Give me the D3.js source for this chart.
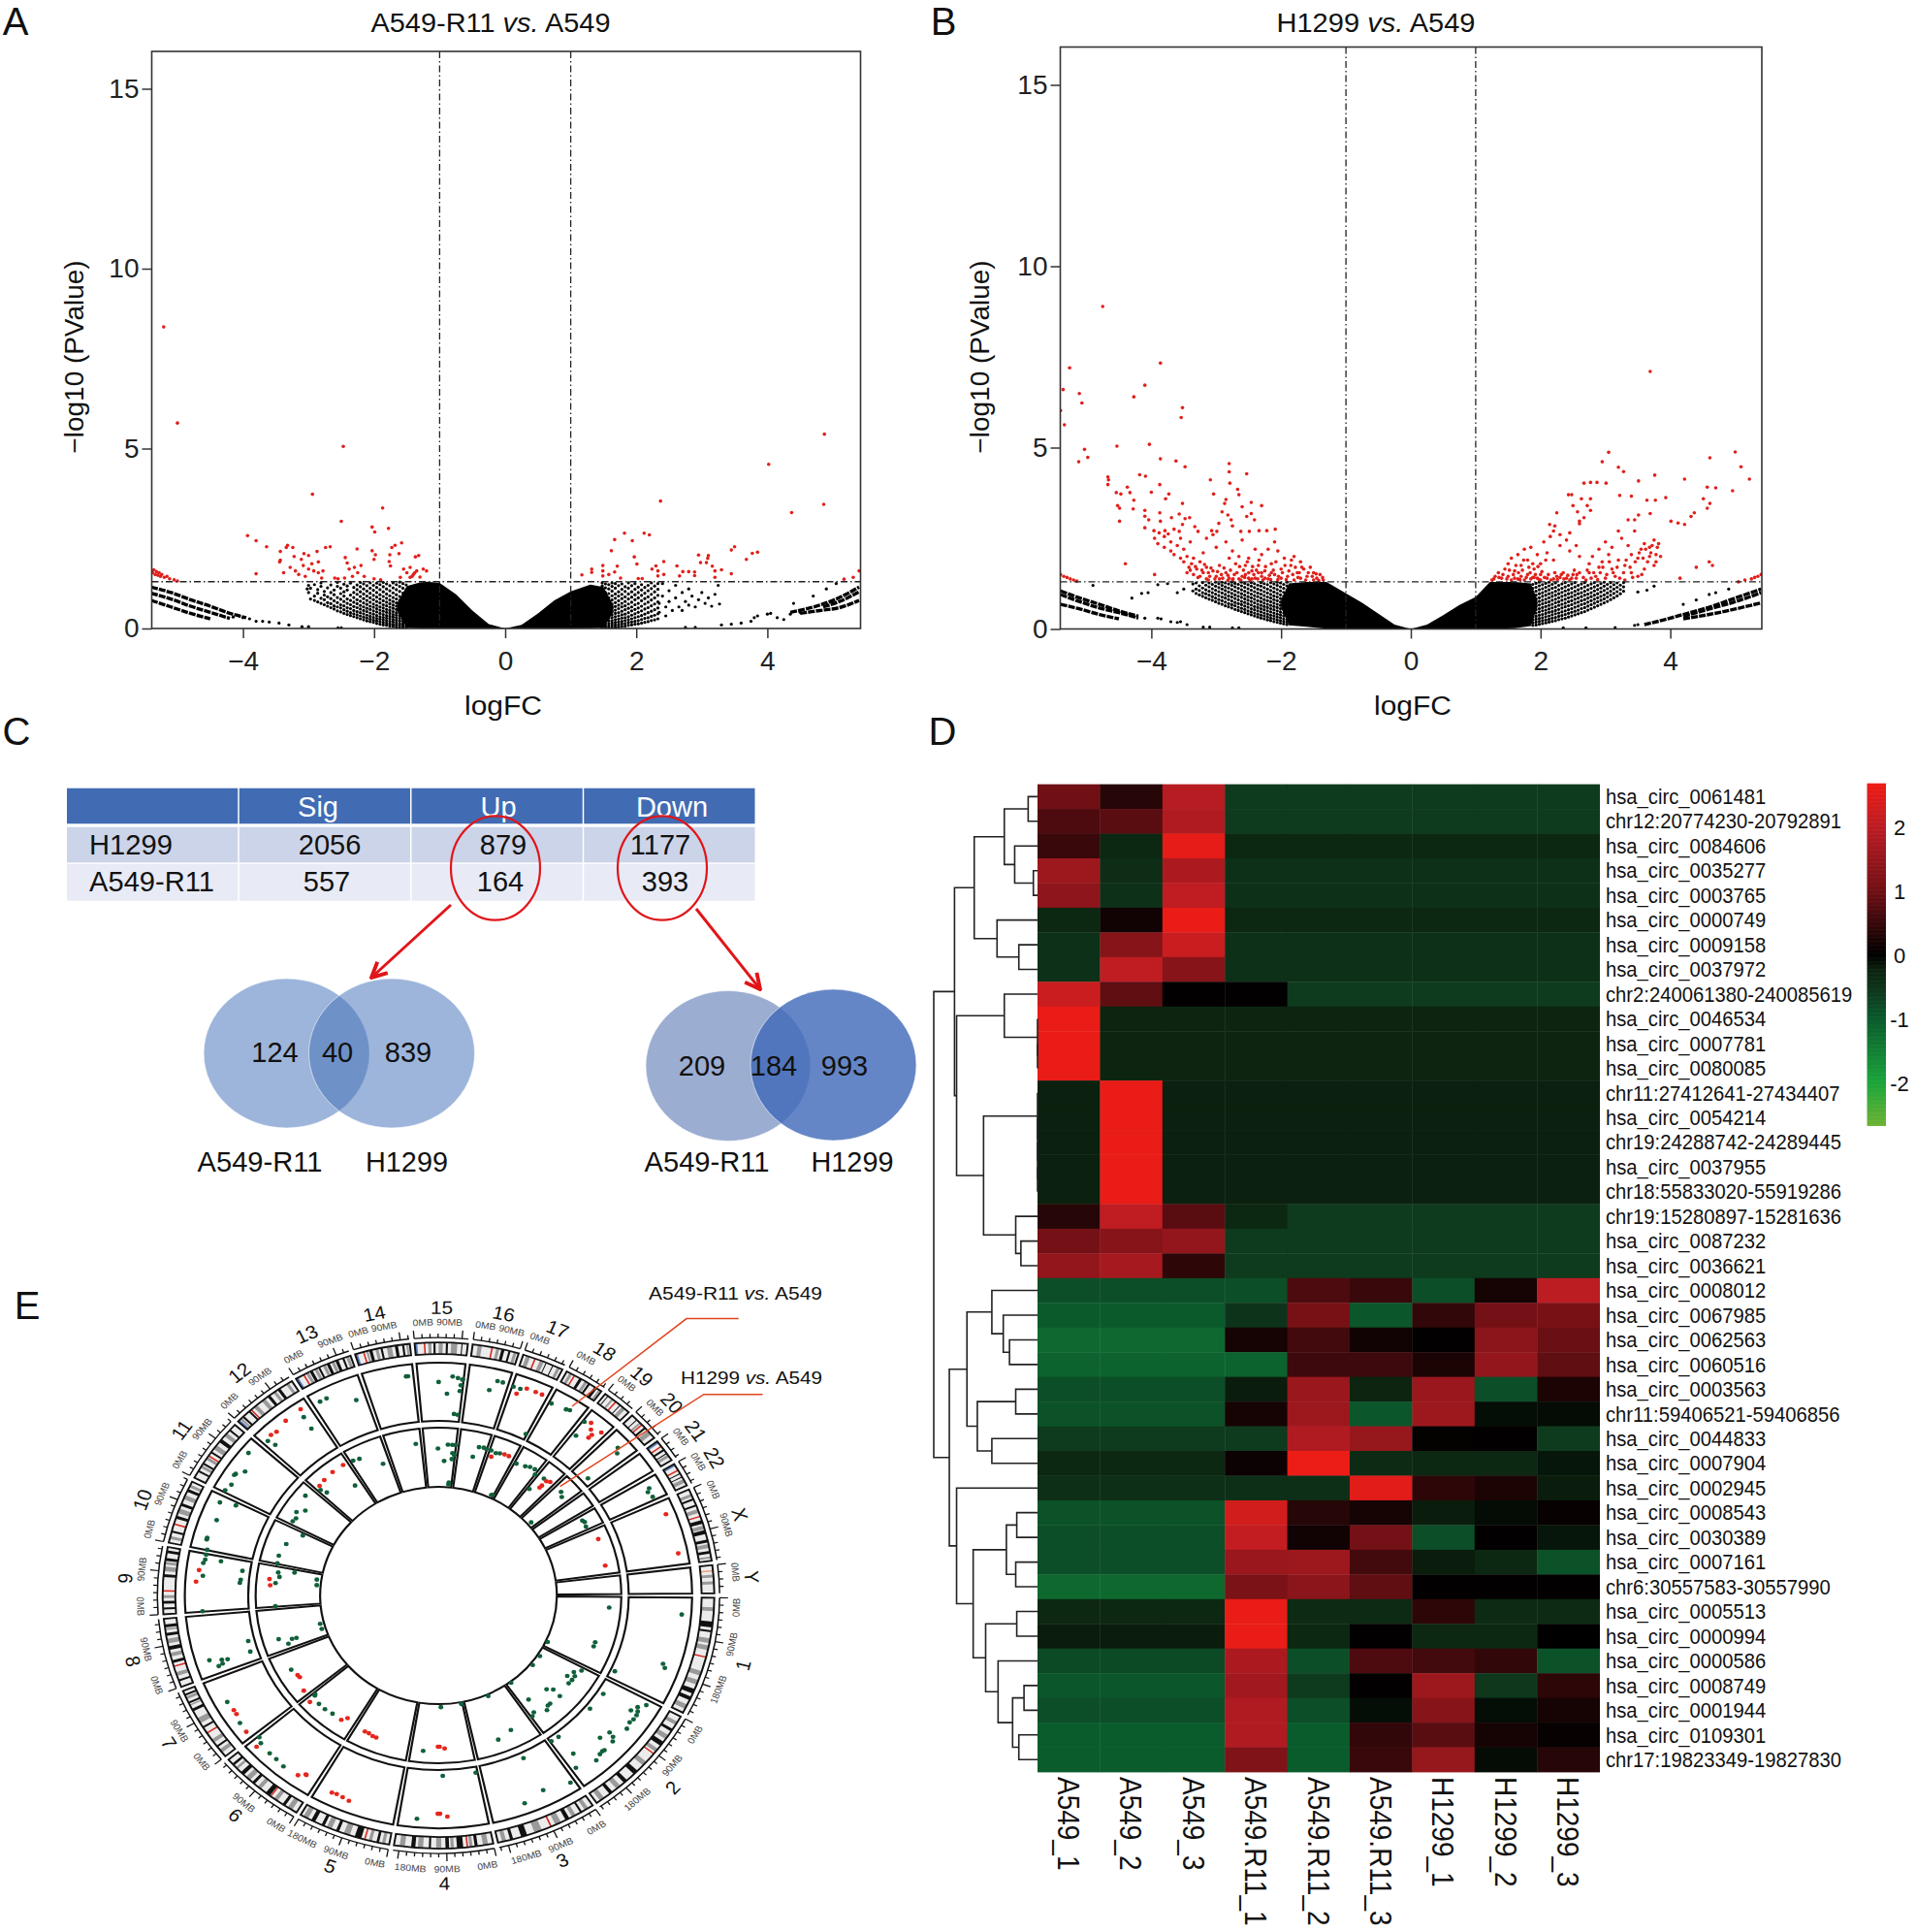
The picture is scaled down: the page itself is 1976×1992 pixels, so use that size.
<!DOCTYPE html>
<html><head><meta charset="utf-8">
<script src="https://cdn.jsdelivr.net/npm/d3@7"></script>
<style>html,body{margin:0;padding:0;background:#fff}svg{display:block}text{font-family:"Liberation Sans",Arial,sans-serif;fill:#111}</style>
</head><body>
<script>
// ---------- Volcano data (logFC, -log10 P) ----------
const volcanoTicksX=[-4,-2,0,2,4], volcanoTicksY=[0,5,10,15];
const redA=[[-5.21,8.38],[-5,5.71],[-2.47,5.06],[-2.94,3.73],[-1.87,3.35],[-2.5,2.98],[-2.03,2.82],[-1.99,2.68],[-1.78,2.78],[-3.93,2.58],[-3.8,2.44],[-3.64,2.27],[-3.32,2.31],[-3.34,2.25],[-3.24,2.25],[-3.43,2.14],[-3.22,2],[-3.07,2.08],[-3.11,1.92],[-3,2.03],[-2.87,2.14],[-2.74,2.25],[-2.67,2.27],[-2.26,2.21],[-2.03,2.16],[-1.98,2.05],[-2,1.92],[-1.73,2.25],[-1.68,2.31],[-1.58,2.38],[-1.62,2.08],[-1.76,2.05],[-1.77,1.86],[-1.75,1.74],[-1.37,1.99],[-1.32,2.03],[-2.44,1.97],[-2.41,1.82],[-5.4,1.6],[-5.38,1.55],[-5.36,1.63],[-5.34,1.5],[-5.32,1.58],[-5.3,1.48],[-5.28,1.55],[-5.26,1.45],[-5.24,1.5],[-5.2,1.42],[-5.16,1.45],[-5.12,1.38],[-5.05,1.35],[-5,1.32],[-3.43,1.9],[-3.44,1.85],[-3.8,1.52],[-3.38,1.55],[-3.28,1.7],[-3.2,1.6],[-3.15,1.5],[-3.08,1.75],[-3.05,1.45],[-3,1.65],[-2.95,1.8],[-2.92,1.6],[-2.85,1.85],[-2.85,1.55],[-2.8,1.4],[-2.78,1.6],[-2.6,1.4],[-2.55,1.38],[-2.45,1.4],[-2.38,1.65],[-2.33,1.45],[-2.3,1.7],[-2.25,1.55],[-2.2,1.75],[-2.15,1.45],[-2,1.38],[-1.9,1.35],[-1.6,1.42],[-1.55,1.65],[-1.45,1.7],[-1.4,1.5],[-1.42,1.45],[-1.38,1.55],[-1.35,1.6],[-1.3,1.43],[-1.25,1.65],[-1.2,1.6],[-1.5,1.55],[-1.45,1.42],[4.87,5.4],[4.02,4.56],[4.86,3.45],[4.37,3.22],[2.37,3.54],[2.12,2.65],[2.2,2.6],[1.82,2.65],[1.67,2.47],[1.94,2.44],[1.62,2.16],[1.97,1.99],[2.01,1.79],[3.5,2.27],[3.45,2.18],[3.85,2.12],[3.77,2.09],[3.68,1.92],[2.95,2.04],[3.1,2.03],[3.09,1.95],[2.98,1.83],[3.07,1.83],[3.16,1.73],[3.2,1.6],[3.3,1.63],[3.2,1.42],[3.45,1.52],[2.42,1.86],[2.3,1.74],[2.24,1.65],[2.33,1.6],[2.42,1.5],[2.33,1.46],[2.62,1.74],[2.71,1.58],[2.8,1.58],[2.89,1.57],[2.66,1.46],[2.89,1.47],[1.49,1.75],[1.49,1.6],[1.49,1.46],[1.58,1.5],[1.71,1.73],[1.67,1.57],[1.76,1.4],[1.32,1.65],[1.32,1.56],[1.17,1.49],[2.03,1.39],[2.09,1.39],[5.17,1.37],[5.31,1.42],[5.4,1.6]];
const blackA=[[-3,1.2],[-3.02,1.1],[-3,1],[-4.15,.32],[-4,.3],[-3.9,.27],[-3.8,.2],[-3.7,.2],[-3.6,.18],[-3.45,.15],[-3.3,.1],[-3.1,.05],[-3,.05],[-2.55,.02],[-2.5,.02],
[2.35,.7],[2.35,.45],[2.4,1.25],[2.4,.9],[2.45,.6],[2.45,.35],[2.5,1.05],[2.5,.75],[2.55,.5],[2.6,1.2],[2.6,.85],[2.65,.6],[2.7,1],[2.7,.5],[2.75,.75],[2.8,1.1],[2.8,.65],[2.85,.9],[2.9,.6],[2.95,.8],[3,1],[3.05,.7],[3.1,.85],[3.15,.62],[3.2,.95],[3.25,1.2],[3.27,.68],[2.75,.03],[2.9,.03],[3.3,.1],[3.45,.12],[3.6,.15],[3.75,.2],[3.8,.3],[3.85,.35],[4,.4],[4.05,.42],[4.15,.3],[4.25,.25],[4.35,.4],[4.5,.45],[4.4,.7],[4.7,.9],[4.9,1.1],[5.05,1.25]];
const cloudA=[[-2.97,[.82,1.12]],[-2.91,[.78,.9,1.22]],[-2.86,[.74,.98,1.08]],[-2.81,[.7,.84,1.17,1.27]],[-2.76,[.66,.8,.93,1.03]],[-2.71,[.62,.72,.88,1.13]],[-2.66,[.58,.69,.83,1,1.21]],[-2.61,[.54,.63,.77,.94,1.07]],[-2.56,[.49,.6,.72,.86,1.17,1.28]],[-2.51,[.46,.57,.66,.81,.97,1.12]],[-2.46,[.42,.52,.63,.75,.9,1.02,1.23]],[-2.41,[.39,.48,.58,.7,.82,1.07,1.18]],[-2.36,[.36,.44,.55,.66,.78,.93,1.26]],[-2.31,[.33,.41,.5,.61,.73,.86,1,1.14]],[-2.26,[.3,.38,.47,.58,.69,.8,.95,1.08,1.21]],[-2.21,[.27,.35,.44,.54,.64,.76,.89,1.02,1.16,1.28]],[-2.16,[.24,.32,.41,.5,.6,.71,.83,.96,1.1,1.24]],[-2.11,[.21,.29,.37,.47,.56,.67,.78,.9,1.04,1.19]],[-2.06,[.19,.26,.34,.43,.53,.62,.73,.85,.98,1.12,1.27]],[-2.01,[.17,.23,.31,.4,.49,.59,.68,.8,.92,1.06,1.2]],[-1.96,[.14,.21,.28,.36,.46,.55,.64,.75,.87,1,1.14,1.26]],[-1.91,[.12,.19,.26,.33,.42,.51,.6,.71,.82,.94,1.08,1.22]],[-1.86,[.1,.17,.24,.31,.39,.48,.57,.66,.77,.89,1.02,1.16,1.28]],[-1.81,[.09,.15,.22,.29,.36,.45,.53,.63,.73,.84,.96,1.1,1.24]],[-1.76,[.07,.13,.2,.27,.34,.42,.5,.59,.69,.79,.91,1.05,1.19]],[-1.71,[.06,.11,.18,.25,.32,.39,.47,.56,.65,.75,.86,.99,1.13,1.27]],[-1.66,[.04,.1,.16,.23,.3,.37,.44,.53,.62,.71,.82,.94,1.08,1.22]],[-1.61,[.03,.09,.14,.21,.28,.35,.42,.5,.58,.68,.78,.89,1.03,1.17,1.29]],[-1.56,[.02,.07,.13,.2,.26,.33,.4,.47,.56,.64,.74,.85,.98,1.12,1.25]],[-1.51,[.02,.06,.11,.18,.24,.31,.38,.45,.53,.61,.71,.81,.93,1.07,1.21]],
[1.48,[.02,.07,.13,.2,.27,.35,.43,.52,.61,.7,.81,.92,1.05,1.18,1.27]],[1.53,[.02,.06,.12,.18,.25,.32,.4,.48,.57,.67,.76,.88,1,1.13,1.24]],[1.58,[.03,.08,.14,.21,.29,.36,.45,.54,.63,.74,.85,.97,1.1,1.22]],[1.63,[.03,.09,.15,.22,.3,.38,.47,.58,.68,.79,.91,1.04,1.17,1.27]],[1.68,[.04,.1,.17,.25,.33,.42,.51,.61,.72,.84,.96,1.12,1.25]],[1.73,[.05,.11,.18,.26,.35,.44,.55,.65,.77,.9,1.02,1.19]],[1.78,[.06,.13,.2,.29,.38,.48,.6,.7,.83,.95,1.09,1.24]],[1.83,[.07,.14,.22,.3,.4,.52,.63,.75,.88,1.03,1.16]],[1.88,[.09,.17,.25,.33,.44,.56,.68,.82,.96,1.12,1.27]],[1.93,[.1,.18,.27,.37,.49,.6,.73,.87,1.02,1.19]],[1.98,[.12,.2,.3,.41,.53,.66,.8,.94,1.09,1.25]],[2.03,[.13,.22,.33,.45,.57,.7,.85,1,1.15]],[2.08,[.15,.25,.36,.49,.62,.77,.92,1.07,1.22]],[2.13,[.17,.28,.4,.54,.68,.83,.98,1.14]],[2.18,[.19,.3,.44,.58,.73,.88,1.05,1.2]],[2.23,[.22,.34,.48,.63,.79,.95,1.11,1.27]],[2.28,[.24,.37,.52,.68,.85,1.02,1.18]],[2.33,[.27,.41,.57,.74,.92,1.09,1.25]]];
const envelopeA=[[-1.65,.5,.7],[-1.5,.02,1.18],[-1.3,0,1.28],[-1.2,0,1.3],[-1,0,1.27],[-.75,0,.95],[-.5,0,.5],[-.25,0,.12],[0,0,0],[.25,0,.1],[.5,0,.42],[.75,0,.78],[1,0,1.03],[1.3,.01,1.22],[1.5,.03,1.15],[1.65,.45,.65]];
const tailsA=[[[-5.4,1.15],[-5.1,1],[-4.8,.8],[-4.5,.62],[-4.2,.42],[-3.95,.3]],[[-5.4,.98],[-5.1,.82],[-4.8,.62],[-4.5,.45],[-4.2,.28]],[[-5.4,.78],[-5.1,.6],[-4.8,.42],[-4.5,.27]],[[5.4,1.15],[5.2,.95],[5,.78],[4.8,.65],[4.6,.55],[4.35,.45]],[[5.4,1.02],[5.1,.75],[4.85,.6]],[[5.4,.78],[5.1,.58],[4.8,.5],[4.5,.42]]];
const redB=[[-4.75,8.89],[-5.26,7.2],[-3.86,7.33],[-4.1,6.72],[-4.27,6.4],[-5.36,6.6],[-5.11,6.49],[-5.07,6.23],[-3.52,6.1],[-3.54,5.83],[-5.34,5.63],[-5.4,6.02],[-4.53,5.04],[-4.03,5.09],[-5.03,4.95],[-4.98,4.73],[-5.12,4.61],[-3.86,4.69],[-3.62,4.63],[-3.48,4.47],[-2.8,4.56],[-2.8,4.33],[-2.53,4.28],[-4.18,4.25],[-4.09,4.21],[-4.67,4.19],[-4.66,4.11],[-4.67,3.98],[-3.09,4.11],[-2.79,4.02],[-3.87,3.98],[-4.37,3.91],[-4,3.77],[-4.33,3.76],[-4.54,3.76],[-4.47,3.72],[-2.67,3.85],[-2.65,3.7],[-3.04,3.72],[-3.73,3.72],[-3.78,3.59],[-4.27,3.55],[-3.52,3.46],[-2.85,3.57],[-2.87,3.46],[-2.46,3.49],[-2.3,3.4],[-2.6,3.37],[-4.52,3.4],[-4.49,3.33],[-4.1,3.27],[-4.28,3.31],[-3.87,3.2],[-2.91,3.23],[-2.82,3.14],[-2.53,3.1],[-2.46,3.18],[-3.57,3.17],[-3.69,3.07],[-3.48,3.04],[-3.41,3.07],[-4.49,2.97],[-4.1,3.11],[-4.04,3.01],[-3.86,2.97],[-3.52,2.88],[-3.33,2.82],[-2.96,2.91],[-2.77,3.01],[-2.75,2.84],[-2.41,3.01],[-4.1,2.79],[-3.96,2.71],[-3.88,2.65],[-3.79,2.71],[-3.74,2.62],[-3.65,2.75],[-3.57,2.69],[-3.28,2.69],[-3.07,2.71],[-2.99,2.69],[-2.62,2.69],[-2.49,2.69],[-2.34,2.71],[-2.22,2.71],[-2.09,2.75],
[-3.95,2.5],[-3.9,2.35],[-3.8,2.55],[-3.8,2.25],[-3.7,2.4],[-3.7,2.15],[-3.65,2.05],[-3.6,2.3],[-3.55,2.5],[-3.55,1.95],[-3.5,2.2],[-3.5,1.85],[-3.45,2],[-3.42,1.7],[-3.4,2.4],[-3.38,1.8],[-3.35,1.95],[-3.3,1.65],[-3.25,1.85],[-3.2,1.55],[-3.2,2.1],[-3.15,1.7],[-3.15,2.5],[-3.1,1.45],[-3.05,2.6],[-3.05,1.6],[-3,1.45],[-3,2.25],[-2.95,1.75],[-2.9,1.4],[-2.85,2.4],[-2.85,1.55],[-2.8,1.4],[-2.8,1.95],[-2.75,2.15],[-2.72,1.5],[-2.7,1.8],[-2.65,2],[-2.6,1.45],[-2.6,2.45],[-2.55,1.75],[-2.5,1.4],[-2.5,1.95],[-2.45,1.6],[-2.4,2.2],[-2.4,1.4],[-2.35,1.75],[-2.3,2.05],[-2.3,1.45],[-2.25,1.6],[-2.2,1.38],[-2.2,2.2],[-2.15,1.8],[-2.1,2.4],[-2.1,1.5],[-2.05,2.15],[-2,1.65],[-2,1.4],[-1.95,1.95],[-1.9,1.45],[-1.85,1.75],[-1.8,2],[-1.8,1.35],[-1.75,1.55],[-1.7,1.85],[-1.7,1.4],[-1.65,1.65],[-1.6,1.45],[-1.55,1.7],[-1.5,1.35],[-1.5,1.55],[-1.45,1.4],[-1.4,1.5],[-1.35,1.35],[-4.4,1.8],[-3.95,1.5],[-3.25,1.45],[-3.15,1.38],[-2.95,1.38],[-2.75,1.35],[-2.65,1.38],[-2.55,1.5],[-2.45,1.38],[-2.35,1.55],[-2.25,1.4],[-2.15,1.55],[-2.05,1.36],[-5.4,1.5],[-5.35,1.45],[-5.3,1.42],[-5.25,1.38],[-5.2,1.35],[-5.15,1.32],
[-3.45,1.55],[-3.4,1.62],[-3.35,1.5],[-3.32,1.72],[-3.28,1.42],[-3.22,1.62],[-3.18,1.78],[-3.12,1.35],[-3.12,1.55],[-3.08,1.68],[-3.02,1.38],[-2.98,1.58],[-2.92,1.5],[-2.88,1.68],[-2.82,1.34],[-2.82,1.48],[-2.78,1.62],[-2.74,1.38],[-2.68,1.55],[-2.64,1.72],[-2.62,1.35],[-2.58,1.62],[-2.56,1.42],[-2.52,1.85],[-2.5,1.55],[-2.48,1.35],[-2.44,1.72],[-2.42,1.5],[-2.38,1.62],[-2.36,1.38],[-2.34,1.9],[-2.3,1.55],[-2.28,1.35],[-2.24,1.72],[-2.18,1.48],[-2.16,1.36],[-2.12,1.62],[-2.08,1.85],[-2.04,1.45],[-1.98,1.55],[-1.94,1.75],[-1.92,1.36],[-1.88,1.6],[-1.84,1.9],[-1.82,1.5],[-1.78,1.7],[-1.74,1.42],[-1.72,1.55],[-1.68,1.7],[-1.62,1.35],[-1.58,1.55],[-1.52,1.45],[-1.46,1.52],[-1.42,1.34],[-1.36,1.42],
[3.69,7.1],[3.05,4.87],[5,4.88],[4.61,4.72],[2.95,4.61],[5.09,4.47],[3.2,4.46],[3.28,4.34],[5.22,4.13],[3.76,4.24],[4.22,4.13],[3.51,4.08],[2.67,4.02],[2.77,4.04],[2.87,4.04],[3.01,4.02],[4.57,3.91],[4.7,3.89],[4.96,3.81],[2.43,3.7],[2.48,3.7],[2.63,3.59],[2.77,3.59],[3.22,3.68],[3.4,3.66],[3.64,3.55],[3.77,3.55],[3.93,3.62],[4.51,3.59],[4.61,3.46],[4.57,3.33],[4.37,3.2],[4.32,3.1],[2.25,3.2],[2.5,3.4],[2.57,3.23],[2.72,3.4],[2.77,3.27],[2.67,3.07],[2.6,2.97],[3.51,3.14],[3.45,3.01],[3.35,3.01],[3.69,3.18],[4.01,2.97],[4.12,2.92],[4.22,2.88],[2.14,2.88],[2.22,2.84],
[1.25,1.35],[1.3,1.45],[1.35,1.55],[1.4,1.4],[1.45,1.65],[1.5,1.45],[1.5,1.8],[1.55,1.35],[1.55,1.95],[1.6,1.6],[1.6,1.4],[1.65,2.05],[1.7,1.75],[1.7,1.45],[1.75,2.2],[1.8,1.9],[1.8,1.5],[1.85,1.38],[1.85,2.25],[1.9,1.65],[1.95,2.05],[1.95,1.4],[2,1.8],[2,1.5],[2.05,2.4],[2.1,2.1],[2.1,1.4],[2.15,2.55],[2.2,1.9],[2.2,2.7],[2.25,1.45],[2.3,2.3],[2.3,2.6],[2.35,1.55],[2.4,2.45],[2.4,1.4],[2.45,2.15],[2.45,2.65],[2.5,1.5],[2.55,2.3],[2.55,1.4],[2.6,2],[2.6,2.9],[2.7,1.35],[2.75,1.8],[2.75,1.55],[2.8,2],[2.85,1.45],[2.9,2.2],[2.9,1.7],[2.95,1.85],[3,2.4],[3,1.4],[3.05,2.05],[3.1,1.65],[3.1,2.25],[3.15,1.45],[3.2,2.7],[3.2,1.9],[3.25,2.5],[3.3,1.75],[3.3,1.35],[3.35,2.3],[3.4,1.55],[3.4,2.05],[3.45,2.7],[3.5,1.95],[3.5,1.45],[3.55,2.2],[3.6,1.65],[3.6,2.35],[3.65,1.85],[3.7,2.1],[3.75,2.45],[3.75,1.75],[3.8,2.25],[3.85,2],[4.15,1.4],[4.4,1.7],[4.6,1.85],[4.65,1.75],[1.65,1.38],[1.75,1.35],[1.9,1.42],[2,1.35],[2.2,1.38],[2.3,1.42],[2.45,1.35],[2.6,1.55],[5.05,1.3],[5.15,1.35],[5.25,1.38],[5.3,1.42],[5.35,1.45],[5.4,1.5],
[1.28,1.38],[1.36,1.42],[1.42,1.5],[1.48,1.38],[1.52,1.62],[1.58,1.5],[1.62,1.75],[1.66,1.55],[1.68,1.36],[1.72,1.62],[1.74,1.9],[1.78,1.42],[1.82,1.7],[1.84,1.55],[1.88,1.42],[1.88,1.8],[1.92,1.5],[1.96,1.72],[1.98,1.36],[2.02,1.58],[2.06,1.42],[2.08,1.9],[2.12,1.5],[2.16,1.35],[2.22,1.55],[2.26,1.36],[2.32,1.5],[2.36,1.38],[2.42,1.48],[2.48,1.4],[2.52,1.62],[2.56,1.5],[2.66,1.42],[2.72,1.62],[2.78,1.4],[2.82,1.55],[2.88,1.36],[2.92,1.55],[2.96,1.7],[3.02,1.5],[3.06,1.85],[3.12,1.55],[3.18,1.7],[3.22,1.4],[3.28,1.55],[3.32,1.9],[3.38,1.7],[3.42,1.42],[3.46,1.85],[3.52,2.1],[3.56,1.5],[3.58,1.95],[3.62,2.2],[3.68,2],[3.72,2.3],[3.78,2.05],[3.82,2.35],[3.78,1.85],[3.68,2.25]];
const blackB=[[-3.75,1.25],[-3.9,1.22],[-4.05,1],[-4.15,.98],[-4.3,.85],[-4.1,.3],[-3.9,.3],[-3.85,.28],[-3.7,.2],[-3.6,.18],[-3.55,.2],[-3.45,.12],[-3.2,.05],[-3.1,.05],[-2.75,.03],[-2.65,.03],[-4.9,1.2],[-3.5,1.1],[-3.6,1],
[3.64,1.07],[3.5,1.02],[3.75,1.18],[3.45,.1],[3.5,.12],[2.35,.03],[2.7,.03],[3.15,.04],[4.2,.68],[4.4,.8],[4.6,.95],[4.7,1],[4.9,1.1]];
const cloudB=[[-3.36,[1.05,1.24]],[-3.31,[.98,1.1,1.27]],[-3.26,[.94,1.06,1.19]],[-3.21,[.9,1,1.13,1.28]],[-3.16,[.86,.97,1.08,1.21]],[-3.11,[.82,.93,1.04,1.16,1.27]],[-3.06,[.79,.89,1,1.11,1.23]],[-3.01,[.75,.85,.96,1.07,1.18,1.29]],[-2.96,[.71,.81,.92,1.03,1.14,1.25]],[-2.91,[.68,.78,.88,.99,1.1,1.2,1.29]],[-2.86,[.64,.74,.85,.95,1.06,1.16,1.27]],[-2.81,[.61,.7,.81,.91,1.02,1.13,1.24]],[-2.76,[.58,.67,.77,.88,.98,1.09,1.2,1.29]],[-2.71,[.54,.64,.73,.84,.94,1.05,1.16,1.26]],[-2.66,[.51,.6,.7,.8,.9,1.01,1.12,1.23]],[-2.61,[.48,.57,.67,.76,.87,.97,1.08,1.19,1.29]],[-2.56,[.45,.54,.63,.73,.83,.93,1.04,1.15,1.26]],[-2.51,[.42,.5,.6,.69,.79,.89,1,1.11,1.22]],[-2.46,[.39,.47,.56,.66,.76,.86,.96,1.07,1.18,1.28]],[-2.41,[.36,.44,.53,.62,.72,.82,.92,1.03,1.14,1.25]],[-2.36,[.33,.41,.5,.59,.68,.78,.89,.99,1.1,1.21]],[-2.31,[.3,.38,.47,.56,.65,.75,.85,.96,1.07,1.18,1.28]],[-2.26,[.28,.36,.44,.53,.62,.71,.81,.92,1.03,1.14,1.25]],[-2.21,[.25,.33,.41,.5,.59,.68,.78,.88,.99,1.1,1.22]],[-2.16,[.23,.3,.38,.47,.56,.65,.75,.85,.95,1.06,1.17,1.28]],[-2.11,[.2,.28,.36,.44,.53,.62,.71,.81,.91,1.02,1.13,1.24]],[-2.06,[.18,.25,.33,.41,.5,.59,.68,.78,.88,.98,1.09,1.2,1.29]],[-2.01,[.16,.23,.31,.39,.47,.56,.65,.74,.84,.94,1.05,1.16,1.27]],[-1.96,[.14,.21,.28,.36,.44,.53,.62,.71,.8,.9,1.01,1.12,1.23]],[-1.91,[.12,.19,.26,.34,.42,.5,.59,.68,.77,.87,.97,1.08,1.19,1.29]],
[1.88,[.1,.17,.25,.33,.42,.51,.6,.7,.8,.9,1.01,1.12,1.23]],[1.93,[.11,.19,.27,.35,.44,.53,.63,.72,.83,.93,1.04,1.15,1.26]],[1.98,[.13,.21,.29,.38,.47,.56,.66,.76,.86,.97,1.08,1.19,1.29]],[2.03,[.15,.23,.31,.4,.5,.59,.69,.79,.9,1,1.11,1.22]],[2.08,[.17,.25,.34,.43,.52,.62,.72,.82,.93,1.04,1.15,1.26]],[2.13,[.19,.27,.36,.46,.55,.65,.75,.86,.97,1.08,1.19,1.29]],[2.18,[.21,.3,.39,.48,.58,.68,.79,.9,1,1.12,1.23]],[2.23,[.23,.32,.42,.51,.61,.72,.82,.93,1.04,1.15,1.27]],[2.28,[.26,.35,.44,.54,.65,.75,.86,.97,1.08,1.2]],[2.33,[.28,.37,.47,.58,.68,.79,.9,1.01,1.12,1.24]],[2.38,[.3,.4,.5,.61,.71,.82,.93,1.05,1.16,1.28]],[2.43,[.33,.43,.53,.64,.75,.86,.97,1.08,1.2]],[2.48,[.36,.46,.56,.67,.78,.89,1,1.12,1.24]],[2.53,[.39,.49,.6,.71,.82,.93,1.04,1.16,1.28]],[2.58,[.42,.52,.63,.74,.85,.97,1.08,1.2]],[2.63,[.45,.56,.67,.78,.89,1,1.12,1.24]],[2.68,[.48,.59,.7,.81,.93,1.04,1.16,1.28]],[2.73,[.52,.63,.74,.85,.96,1.08,1.2]],[2.78,[.56,.67,.78,.89,1,1.12,1.24]],[2.83,[.6,.71,.82,.93,1.05,1.16,1.28]],[2.88,[.64,.75,.86,.97,1.09,1.2]],[2.93,[.68,.79,.9,1.02,1.13,1.25]],[2.98,[.72,.83,.94,1.06,1.18,1.29]],[3.03,[.76,.88,.99,1.11,1.23]],[3.08,[.81,.93,1.04,1.16,1.28]],[3.13,[.86,.98,1.1,1.22]],[3.18,[.91,1.03,1.15,1.27]],[3.23,[.97,1.09,1.21]],[3.28,[1.04,1.16,1.28]]];
const envelopeB=[[-2,.6,.8],[-1.88,.1,1.26],[-1.6,.06,1.3],[-1.3,.01,1.3],[-1,0,.98],[-.75,0,.72],[-.5,0,.42],[-.25,0,.12],[0,0,0],[.25,0,.12],[.5,0,.38],[.75,0,.66],[1,0,.88],[1.22,0,1.3],[1.6,.02,1.3],[1.85,.08,1.26],[1.95,.6,.8]];
const tailsB=[[[-5.4,1.05],[-5.1,.85],[-4.8,.68],[-4.5,.5],[-4.2,.35]],[[-5.4,.95],[-5.1,.75],[-4.8,.58],[-4.5,.45],[-4.2,.3]],[[-5.4,.68],[-5.1,.55],[-4.8,.4],[-4.5,.28]],[[5.4,1.1],[5,.85],[4.6,.6],[4.2,.4],[3.9,.25],[3.6,.12]],[[5.4,1],[5,.75],[4.6,.55],[4.2,.35]],[[5.4,.72],[5,.55],[4.6,.4],[4.2,.28]]];

// ---------- Table and Venn ----------
const tableHeader=["","Sig","Up","Down"];
const tableRows=[["H1299","2056","879","1177"],["A549-R11","557","164","393"]];
const vennUp=[124,40,839], vennDown=[209,184,993], vennNames=["A549-R11","H1299"];

// ---------- Heat map ----------
const samples=["A549_1","A549_2","A549_3","A549.R11_1","A549.R11_2","A549.R11_3","H1299_1","H1299_2","H1299_3"];
const genes=["hsa_circ_0061481","chr12:20774230-20792891","hsa_circ_0084606","hsa_circ_0035277","hsa_circ_0003765","hsa_circ_0000749","hsa_circ_0009158","hsa_circ_0037972","chr2:240061380-240085619","hsa_circ_0046534","hsa_circ_0007781","hsa_circ_0080085","chr11:27412641-27434407","hsa_circ_0054214","chr19:24288742-24289445","hsa_circ_0037955","chr18:55833020-55919286","chr19:15280897-15281636","hsa_circ_0087232","hsa_circ_0036621","hsa_circ_0008012","hsa_circ_0067985","hsa_circ_0062563","hsa_circ_0060516","hsa_circ_0003563","chr11:59406521-59406856","hsa_circ_0044833","hsa_circ_0007904","hsa_circ_0002945","hsa_circ_0008543","hsa_circ_0030389","hsa_circ_0007161","chr6:30557583-30557990","hsa_circ_0005513","hsa_circ_0000994","hsa_circ_0000586","hsa_circ_0008749","hsa_circ_0001944","hsa_circ_0109301","chr17:19823349-19827830"];
const heat=[
[1,.35,1.95,-.6,-.6,-.6,-.6,-.6,-.6],[.7,.8,1.85,-.6,-.6,-.6,-.6,-.6,-.6],[.5,-.3,2.55,-.3,-.3,-.3,-.3,-.3,-.3],[1.6,-.4,1.8,-.45,-.45,-.45,-.45,-.45,-.45],[1.4,-.45,2.05,-.45,-.45,-.45,-.45,-.45,-.45],
[-.3,.15,2.6,-.3,-.3,-.3,-.3,-.3,-.3],[-.45,1.3,2.2,-.45,-.45,-.45,-.45,-.45,-.45],[-.45,2.05,1.3,-.45,-.45,-.45,-.45,-.45,-.45],[2.2,.85,.03,.03,-.6,-.6,-.6,-.6,-.6],
[2.6,-.25,-.25,-.25,-.25,-.25,-.25,-.25,-.25],[2.6,-.25,-.25,-.25,-.25,-.25,-.25,-.25,-.25],[2.6,-.25,-.25,-.25,-.25,-.25,-.25,-.25,-.25],
[-.22,2.6,-.22,-.22,-.22,-.22,-.22,-.22,-.22],[-.22,2.6,-.22,-.22,-.22,-.22,-.22,-.22,-.22],[-.22,2.6,-.22,-.22,-.22,-.22,-.22,-.22,-.22],[-.22,2.6,-.22,-.22,-.22,-.22,-.22,-.22,-.22],[-.22,2.6,-.22,-.22,-.22,-.22,-.22,-.22,-.22],
[.35,2.05,.8,-.3,-.6,-.6,-.6,-.6,-.6],[1.05,1.3,1.45,-.6,-.6,-.6,-.6,-.6,-.6],[1.45,1.7,.4,-.6,-.6,-.6,-.6,-.6,-.6],
[-.85,-.85,-.85,-.85,.7,.5,-.85,.2,2],[-1,-1,-1,-.5,1.1,-.95,.45,1.05,1.1],[-1.2,-1.2,-1.2,.2,.6,.15,.03,1.35,.95],[-1.12,-1.12,-1.12,-1.12,.55,.55,.25,1.45,.85],
[-.85,-.85,-.85,-.2,1.55,-.25,1.55,-.85,.25],[-.9,-.9,-.9,.2,1.6,-.95,1.6,-.1,-.08],[-.6,-.6,-.6,-.6,1.85,1.5,.04,.03,-.6],[-.3,-.3,-.3,.12,2.65,-.35,-.3,-.3,-.15],[-.42,-.42,-.42,-.42,-.42,2.5,.4,.25,-.2],
[-.9,-.9,-.9,2.3,.35,.2,-.2,-.08,.07],[-.85,-.85,-.85,2.1,.15,1.05,-.85,.03,-.15],[-.85,-.85,-.85,1.55,1.6,.6,-.2,-.3,-.9],[-1.2,-1.2,-1.2,1.15,1.35,.85,.03,.03,.03],
[-.3,-.3,-.3,2.6,-.35,-.35,.4,-.35,-.35],[-.2,-.2,-.2,2.6,-.3,.02,-.3,-.3,.01],[-.8,-.8,-.8,1.8,-.85,.7,.6,.45,-.9],[-.95,-.95,-.95,1.65,-.6,.02,1.6,-.55,.4],[-.85,-.85,-.85,1.85,-.85,-.1,1.3,-.1,.2],[-1.02,-1.02,-1.02,1.85,-1.02,.45,.8,.2,.06],[-1.02,-1.02,-1.02,1.2,-1.02,.5,1.5,-.08,.35]];
const colorStops=[-2.66,-2,-1,-.6,-.25,0,1,2,2.67], colorRange=["#6cb334","#1ca53b","#0a5a2c","#0e3a1e","#0c2410","#000000","#701015","#bb1d23","#ee1c16"];
const colorTicks=[2,1,0,-1,-2];
// dendrogram merges: [height, left, right], leaf = row index
const dendro=[1,
 [.8,
  [.61,[.32,[.09,0,1],[.22,2,[.04,3,4]]],[.39,5,[.18,6,7]]],
  [.78,[.32,8,[0,9,[0,10,11]]],[.52,[0,12,[0,13,[0,14,[0,15,16]]]],[.21,17,[.16,18,19]]]]],
 [.85,
  [.68,[.44,20,[.33,21,[.27,22,23]]],[.58,[.21,24,25],[.44,26,27]]],
  [.78,28,[.62,[.3,[.2,29,30],[.21,31,32]],[.5,[.2,33,34],[.38,35,[.24,[.13,36,37],[.18,38,39]]]]]]]];

// ---------- Circos ----------
const chromNames=["1","2","3","4","5","6","7","8","9","10","11","12","13","14","15","16","17","18","19","20","21","22","X","Y"];
const chromLen=[249,243,198,191,181,171,159,146,141,135,135,133,115,107,102,90,81,78,59,63,48,51,155,59];
const centromere=[125,93,91,50,48,60,60,45,49,40,53,35,17,17,19,38,24,17,26,27,13,15,60,12];
const blackBands=[[[50,62],[68,72],[195,205],[212,220]],[[30,36],[62,72],[140,150],[168,176],[205,212]],[[24,28],[52,60],[140,152],[168,174]],[[30,36],[58,70],[85,92],[120,124],[150,158]],[[20,25],[55,68],[100,106],[130,136],[150,158]],[[26,32],[62,72],[100,106],[128,136],[155,160]],[[24,28],[72,76],[112,118],[130,134],[148,152]],[[12,16],[52,58],[80,88],[110,116],[128,134]],[[10,14],[22,28],[78,84],[112,118],[128,134]],[[22,26],[52,58],[80,86],[112,118]],[[14,18],[32,36],[60,64],[88,96],[118,122]],[[12,16],[28,32],[76,82],[100,106]],[[30,36],[48,52],[66,72],[84,90],[98,102]],[[28,34],[50,54],[78,84],[92,96]],[[36,40],[60,64],[90,92]],[[56,62],[70,74]],[[46,48],[60,62]],[[28,34],[48,52],[62,68]],[[6,8],[36,38]],[[12,14],[34,38]],[[20,24],[30,32]],[[22,24],[30,32]],[[20,24],[34,38],[68,76],[90,98],[110,116],[134,140]],[[]]];
const greyBands=[[[20,28],[85,95],[100,110],[155,165],[175,185],[230,240]],[[12,20],[45,55],[80,88],[115,125],[185,195],[225,235]],[[10,18],[38,46],[70,82],[110,125],[182,190]],[[10,20],[40,46],[76,82],[100,110],[135,145],[170,180]],[[8,14],[34,40],[78,90],[115,125],[165,175]],[[10,20],[44,52],[84,92],[112,122],[145,150]],[[10,18],[36,44],[84,96],[125,128],[140,146]],[[24,32],[66,74],[94,104],[122,126]],[[34,40],[90,100],[104,110]],[[8,14],[64,74],[95,104],[122,128]],[[24,30],[44,50],[70,80],[104,112]],[[6,10],[42,50],[62,70],[90,96],[120,126]],[[22,28],[40,46],[58,64],[76,82],[106,112]],[[22,26],[40,46],[62,72],[100,104]],[[26,32],[46,54],[70,82]],[[10,18],[46,52],[80,86]],[[6,14],[34,42],[70,76]],[[6,12],[40,46],[72,76]],[[16,20],[42,50]],[[20,24],[44,54]],[[34,40]],[[36,44]],[[10,16],[44,52],[80,88],[120,128],[146,150]],[[20,26],[34,40]]];
const blueStart=[12,13,14,15,21,22];
const outerGreen=[[14,95,.8],[14,91,.8],[13,92,.6],[13,33,.82],[13,17,.82],[12,109,.73],[12,11,.78],[12,16,.65],[12,107,.5],[11,106,.87],[11,66,.72],[11,50,.82],[11,46,.83],[11,23,.78],[11,5,.82],[10,118,.8],[10,127,.55],[10,76,.73],[10,29,.78],[10,25,.78],[10,1,.73],[9,139,.73],[9,127,.73],[9,118,.75],[9,87,.73],[9,129,.48],[9,111,.12],[9,85,.13],[9,76,.14],[9,1,.73],[8,60,.1],[8,29,.12],[8,37,.78],[8,30,.59],[8,27,.5],[8,20,.6],[8,17,.67],[7,98,.8],[7,41,.82],[6,168,.73],[6,155,.78],[6,124,.8],[6,104,.8],[6,81,.82],[4,152,.85],[4,94,.1],[4,5,.1],[3,121,.82],[3,10,.83],[3,71,.73],[3,77,.1],[2,232,.67],[2,185,.77],[2,169,.73],[2,160,.72],[2,155,.73],[2,140,.53],[2,115,.58],[2,118,.67],[2,127,.72],[2,215,.45],[2,12,.78],[2,26,.68],[2,35,.72],[2,41,.62],[2,44,.74],[2,56,.74],[2,67,.72],[2,83,.75],[2,41,.1],[2,239,.07],[2,216,.08],[2,97,.08],[1,226,.07],[1,164,.73],[1,172,.78],[1,40,.85],[22,21,.8],[22,28,.75],[22,43,.78],[20,32,.8],[20,41,.73],[20,45,.1],[19,4,.77],[19,10,.5],[18,41,.78],[18,49,.8],[18,6,.75],[17,3,.78],[17,19,.78],[17,78,.1],[16,52,.62],[16,65,.8],[16,77,.8],[15,46,.67],[15,77,.77],[15,89,.75],[15,100,.73],[15,99,.73],[15,97,.63],[15,96,.53],[15,87,.13],[15,97,.12],[15,66,.47]];
const outerRed=[[12,114,.87],[12,72,.85],[12,40,.8],[12,26,.82],[9,100,.8],[9,72,.83],[7,74,.78],[7,63,.78],[7,16,.83],[6,155,.87],[6,43,.8],[6,30,.72],[6,28,.72],[5,148,.78],[5,137,.77],[5,122,.78],[5,106,.8],[4,107,.75],[4,102,.75],[4,86,.8],[23,32,.85],[23,128,.85],[19,17,.82],[19,27,.73],[19,49,.8],[19,36,.6],[19,37,.67],[17,32,.82],[17,53,.82],[17,68,.82],[17,15,.68]];
const innerGreen=[[14,90,.75],[15,44,.65],[15,76,.72],[15,90,.72],[15,100,.72],[15,93,.58],[15,100,.55],[15,66,.44],[15,93,.48],[15,90,.08],[15,89,.05],[16,52,.57],[16,64,.75],[16,79,.76],[16,88,.75],[17,76,.06],[17,72,.05],[17,5,.75],[17,22,.73],[17,34,.75],[18,7,.7],[18,36,.73],[18,50,.76],[18,67,.77],[18,78,.7],[19,8,.45],[19,22,.73],[20,25,.75],[20,40,.7],[20,43,.06],[22,16,.73],[22,24,.75],[22,40,.73],[1,36,.82],[1,161,.72],[1,176,.72],[1,224,.03],[2,41,.04],[2,94,.04],[2,28,.63],[2,52,.58],[2,11,.72],[2,39,.68],[2,55,.68],[2,71,.67],[2,121,.55],[2,136,.47],[2,124,.7],[2,165,.68],[2,175,.68],[2,188,.73],[2,211,.41],[2,221,.02],[2,226,.63],[2,238,.67],[3,88,.03],[3,71,.7],[3,121,.77],[4,5,.03],[4,95,.05],[4,153,.8],[6,78,.75],[6,106,.77],[6,132,.77],[6,162,.72],[6,165,.7],[7,98,.77],[8,29,.48],[8,30,.55],[8,17,.63],[8,42,.75],[8,60,.06],[8,35,.06],[9,2,.7],[9,114,.07],[9,88,.06],[9,130,.43],[9,121,.68],[9,83,.7],[9,106,.65],[10,2,.72],[10,29,.73],[10,75,.68],[10,126,.5],[11,65,.68],[11,45,.78],[11,26,.73],[11,12,.75],[11,106,.83],[12,108,.43],[12,8,.72],[12,16,.62],[13,29,.78],[13,9,.8],[13,92,.55]];
const innerRed=[[17,12,.65],[17,49,.76],[17,64,.76],[19,34,.72],[19,45,.75],[19,32,.57],[19,33,.62],[23,34,.82],[23,126,.8],[4,107,.72],[4,102,.72],[4,86,.75],[5,148,.73],[5,134,.73],[5,119,.75],[5,107,.75],[6,43,.75],[6,30,.67],[6,156,.85],[7,17,.8],[7,72,.73],[7,62,.72],[9,95,.8],[9,74,.78],[12,117,.82],[12,77,.82],[12,40,.8],[12,16,.78]];

// ---------- helpers ----------
const W=1976,H=1992;
const svg=d3.select("body").append("svg").attr("width",W).attr("height",H).attr("viewBox",`0 0 ${W} ${H}`);
function txt(g,x,y,s,o={}){
  const t=g.append("text").attr("transform",`translate(${x},${y})`+(o.rot?` rotate(${o.rot})`:"")+(o.sx||o.sy?` scale(${o.sx||1},${o.sy||1})`:""))
   .attr("text-anchor",o.anchor||"middle").attr("dy",".35em").attr("font-size",o.size||24);
  if(o.fill)t.style("fill",o.fill);
  if(o.len)t.attr("textLength",o.len).attr("lengthAdjust","spacingAndGlyphs");
  (Array.isArray(s)?s:[[s,false]]).forEach(p=>t.append("tspan").text(p[0]).attr("font-style",p[1]?"italic":null));
  return t;
}
// ---------- volcano ----------
function volcano(id,box,x0,xUnit,y0,yUnit,title,titleX,red,black,cloud,envelope,tails,labelOff,fcX){
  const g=svg.append("g");
  const x=d3.scaleLinear().domain([(box[0]-x0)/xUnit,(box[1]-x0)/xUnit]).range([box[0],box[1]]);
  const y=d3.scaleLinear().domain([0,(y0-box[2])/yUnit]).range([y0,box[2]]);
  g.append("clipPath").attr("id",id).append("rect").attr("x",box[0]).attr("y",box[2]).attr("width",box[1]-box[0]).attr("height",box[3]-box[2]);
  const c=g.append("g").attr("clip-path",`url(#${id})`);
  const area=d3.area().x(d=>x(d[0])).y0(d=>y(d[1])).y1(d=>y(d[2]));
  c.append("path").attr("d",area(envelope)).attr("fill","#000");
  const line=d3.line().x(d=>x(d[0])).y(d=>y(d[1])).curve(d3.curveMonotoneX);
  tails.forEach(t=>c.append("path").attr("d",line(t.slice().sort((a,b)=>a[0]-b[0]))).attr("fill","none").attr("stroke","#000").attr("stroke-width",3.4).attr("stroke-dasharray","7 1.2"));
  const cloudPts=cloud.flatMap(col=>col[1].map(v=>[col[0],v]));
  c.selectAll(".b").data(black.concat(cloudPts)).join("circle").attr("cx",d=>x(d[0])).attr("cy",d=>y(d[1])).attr("r",1.6).attr("fill","#000");
  c.selectAll(".r").data(red).join("circle").attr("cx",d=>x(d[0])).attr("cy",d=>y(d[1])).attr("r",1.8).attr("fill","#e0201c");
  const dash="7 3 1.5 3";
  [-1,1].forEach(v=>g.append("line").attr("x1",x(v)).attr("x2",x(v)).attr("y1",box[2]).attr("y2",box[3]).attr("stroke","#222").attr("stroke-width",1.3).attr("stroke-dasharray",dash));
  g.append("line").attr("x1",box[0]).attr("x2",box[1]).attr("y1",y(1.3)).attr("y2",y(1.3)).attr("stroke","#222").attr("stroke-width",1.3).attr("stroke-dasharray",dash);
  g.append("rect").attr("x",box[0]).attr("y",box[2]).attr("width",box[1]-box[0]).attr("height",box[3]-box[2]).attr("fill","none").attr("stroke","#333").attr("stroke-width",1.6);
  const minus=d=>(d<0?"\u2212":"")+Math.abs(d);
  const ax=g.append("g").attr("transform",`translate(0,${box[3]})`).call(d3.axisBottom(x).tickValues(volcanoTicksX).tickFormat(minus).tickSize(10).tickPadding(13));
  const ay=g.append("g").attr("transform",`translate(${box[0]},0)`).call(d3.axisLeft(y).tickValues(volcanoTicksY).tickFormat(d3.format("d")).tickSize(10).tickPadding(3));
  [ax,ay].forEach(a=>{a.select(".domain").remove();a.selectAll("line").attr("stroke","#333").attr("stroke-width",1.5);a.selectAll("text").attr("font-size",28).style("fill","#222");});
  txt(g,titleX,24,title,{size:27,len:title[0][0].startsWith("A")?247:205});
  txt(g,fcX,728,"logFC",{size:27,len:80});
  txt(g,box[0]-labelOff,368,"\u2212log10 (PValue)",{size:27,rot:-90,len:199});
}
volcano("ca",[156.5,887.5,53,648],521,67.6,648,37.1,[["A549-R11 ",false],["vs.",true],[" A549",false]],506,redA,blackA,cloudA,envelopeA,tailsA,80,519);
volcano("cb",[1093.5,1817,48.5,648.5],1455,66.9,648.5,37.4,[["H1299 ",false],["vs.",true],[" A549",false]],1419,redB,blackB,cloudB,envelopeB,tailsB,83,1457);
// ---------- panel letters ----------
[["A",16,22],["B",973,22],["C",17,754],["D",972,754],["E",28,1346]].forEach(d=>txt(svg,d[1],d[2],d[0],{size:40}));
// ---------- table ----------
const tx=d3.scaleBand().domain([0,1,2,3]).range([69,780]);
const tg=svg.append("g");
tableHeader.forEach((h,i)=>{
  tg.append("rect").attr("x",tx(i)).attr("y",812.7).attr("width",tx.bandwidth()-1.5).attr("height",36.6).attr("fill","#416bb3");
  if(h)txt(tg,[0,328,514,693][i],832,h,{size:29,fill:"#fff"}).selectAll("tspan").style("fill","#fff");
});
const rowY=[852.7,890.7],rowH=[36.6,38],rowC=["#ccd4e9","#e8ebf6"],textCx=[[0,340,519,681],[0,337,516,686]];
tableRows.forEach((r,j)=>r.forEach((v,i)=>{
  tg.append("rect").attr("x",tx(i)).attr("y",rowY[j]).attr("width",tx.bandwidth()-1.5).attr("height",rowH[j]).attr("fill",rowC[j]);
  if(i==0)txt(tg,92,rowY[j]+18,v,{size:29,anchor:"start",len:j?129:86});else txt(tg,textCx[j][i],rowY[j]+18,v,{size:29});
}));
[[511,895],[683,895]].forEach(c=>tg.append("ellipse").attr("cx",c[0]).attr("cy",c[1]).attr("rx",46).attr("ry",53.7).attr("fill","none").attr("stroke","#e0161a").attr("stroke-width",2.2));
svg.append("defs").append("marker").attr("id","ah").attr("viewBox","0 0 10 10").attr("refX",9).attr("refY",5).attr("markerWidth",6.5).attr("markerHeight",6.5).attr("orient","auto")
  .append("path").attr("d","M1,1L9,5L1,9").attr("fill","none").attr("stroke","#e0161a").attr("stroke-width",2);
[[465,933,383,1008],[718,937,784,1020]].forEach(a=>tg.append("line").attr("x1",a[0]).attr("y1",a[1]).attr("x2",a[2]).attr("y2",a[3]).attr("stroke","#e0161a").attr("stroke-width",3).attr("marker-end","url(#ah)"));
// ---------- venn ----------
const vg=svg.append("g");
function ell(cx,cy,rx,ry,f,o){vg.append("ellipse").attr("cx",cx).attr("cy",cy).attr("rx",rx).attr("ry",ry).attr("fill",f).attr("fill-opacity",o).attr("stroke","#fff").attr("stroke-width",.8).attr("stroke-opacity",.7);}
ell(295.6,1086,85.5,77,"#4472b8",.52);ell(404,1086,85.5,77,"#4472b8",.52);
ell(751,1099,85,77.5,"#9badd1",1);ell(859.5,1098,85.5,78,"#3f68b8",.8);
vennUp.forEach((v,i)=>txt(vg,[283.5,348,421][i],1085,v,{size:29}));
vennDown.forEach((v,i)=>txt(vg,[724,798,871][i],1099,v,{size:29}));
vennNames.forEach((v,i)=>{txt(vg,[268,419.5][i],1198,v,{size:29,len:i?85:129});txt(vg,[729,879][i],1198,v,{size:29,len:i?85:129});});
// ---------- heat map ----------
const hm=svg.append("g");
const hx=d3.scaleBand().domain(d3.range(samples.length)).range([1070,1649.6]);
const hy=d3.scaleBand().domain(d3.range(genes.length)).range([808.6,1827]);
const col=d3.scaleLinear().domain(colorStops).range(colorRange);
heat.forEach((r,j)=>r.forEach((v,i)=>hm.append("rect").attr("x",hx(i)).attr("y",hy(j)).attr("width",hx.bandwidth()+.4).attr("height",hy.bandwidth()+.4).attr("fill",col(v))));
genes.forEach((g,j)=>txt(hm,1656,hy(j)+hy.bandwidth()/2,g,{size:22,anchor:"start",sx:.92}));
samples.forEach((s,i)=>txt(hm,hx(i)+hx.bandwidth()/2,1832,s,{size:28,anchor:"start",rot:90,sy:1.15}));
// colour bar
const cb=d3.scaleLinear().domain([-2.66,2.67]).range([1160.7,808.6]);
const barVals=d3.range(-2.66,2.67,.02);
hm.selectAll(".cb").data(barVals).join("rect").attr("x",1925.6).attr("width",19.4).attr("y",d=>cb(d)-1.6).attr("height",1.9).attr("fill",d=>col(d));
colorTicks.forEach(t=>txt(hm,1959,cb(t),String(t),{size:22}));
// dendrogram
const dx=d3.scaleLinear().domain([0,1]).range([1070,963]);
function drawD(n){
  if(typeof n==="number")return{y:hy(n)+hy.bandwidth()/2,h:0};
  const a=drawD(n[1]),b=drawD(n[2]);
  hm.append("path").attr("d",`M${dx(a.h)},${a.y}H${dx(n[0])}V${b.y}H${dx(b.h)}`).attr("fill","none").attr("stroke","#222").attr("stroke-width",1.6);
  return{y:(a.y+b.y)/2,h:n[0]};
}
drawD(dendro);
// ---------- circos ----------
const cg=svg.append("g").attr("transform","translate(452.2,1645.1) scale(1.09,1)");
const gapDeg=1, startDeg=90.5, degPerMb=(360-24*gapDeg)/d3.sum(chromLen);
let cur=startDeg;
const chromStart=chromLen.map(l=>{const s=cur;cur+=l*degPerMb+gapDeg;return s;});
const angle=(c,mb)=>(chromStart[c]+mb*degPerMb)*Math.PI/180;
const R={inIn:112,inOut:173,outIn:180,outOut:240,idIn:249,idOut:261,tick:266};
const arc=d3.arc();
const A=(c,m0,m1,r0,r1)=>arc({innerRadius:r0,outerRadius:r1,startAngle:angle(c,m0),endAngle:angle(c,m1)});
function polarText(a,r,s,size,fill){
  let d=a*180/Math.PI%360; if(d<0)d+=360;
  const rot=(d>90&&d<270)?d+180:d;
  txt(cg,r*Math.sin(a),-r*Math.cos(a),s,{size:size,rot:rot,fill:fill}).selectAll("tspan").style("fill",fill);
}
chromLen.forEach((len,c)=>{
  [[R.inIn,R.inOut],[R.outIn,R.outOut]].forEach(t=>cg.append("path").attr("d",A(c,0,len,t[0],t[1])).attr("fill","#fff").attr("stroke","#111").attr("stroke-width",2));
  cg.append("path").attr("d",A(c,0,len,R.idIn,R.idOut)).attr("fill","#ececec");
  greyBands[c].forEach(b=>cg.append("path").attr("d",A(c,b[0],Math.min(b[1],len),R.idIn,R.idOut)).attr("fill","#9a9a9a"));
  blackBands[c].forEach(b=>{if(b.length)cg.append("path").attr("d",A(c,b[0],Math.min(b[1],len),R.idIn,R.idOut)).attr("fill","#111");});
  if(blueStart.includes(c+1))cg.append("path").attr("d",A(c,1,5,R.idIn,R.idOut)).attr("fill","#5b7fc0");
  cg.append("path").attr("d",A(c,centromere[c]-1.5,centromere[c]+1.5,R.idIn,R.idOut)).attr("fill",c==23?"#f0a080":"#d9261c");
  cg.append("path").attr("d",A(c,0,len,R.idIn,R.idOut)).attr("fill","none").attr("stroke","#111").attr("stroke-width",1.8);
  // axis arc + ticks
  const a0=angle(c,0),a1=angle(c,len);
  cg.append("path").attr("d",d3.arc()({innerRadius:R.tick,outerRadius:R.tick,startAngle:a0,endAngle:a1})).attr("fill","none").attr("stroke","#111").attr("stroke-width",1.4);
  d3.range(0,len+1,15).forEach(mb=>{
    const a=angle(c,mb),major=mb%90===0,r1=R.tick+(major?8:4);
    cg.append("line").attr("x1",R.tick*Math.sin(a)).attr("y1",-R.tick*Math.cos(a)).attr("x2",r1*Math.sin(a)).attr("y2",-r1*Math.cos(a)).attr("stroke","#111").attr("stroke-width",1.2);
    if(major){
      const shift=mb===0?2:(len-mb<22?-2.7:0); // labels pulled inward at the ends of an arc
      polarText(a+shift*Math.PI/180,282,mb+"MB",9.5,"#444");
    }
  });
  polarText(angle(c,len/2),297,chromNames[c],19,"#111");
});
function scatter(list,r0,r1,color){
  list.forEach(p=>{
    const c=p[0]-1,a=angle(c,p[1]),r=r0+(r1-r0)*p[2];
    cg.append("circle").attr("cx",r*Math.sin(a)).attr("cy",-r*Math.cos(a)).attr("r",2.3).attr("fill",color);
  });
}
scatter(outerGreen,R.outIn,R.outOut,"#10603a");
scatter(outerRed,R.outIn,R.outOut,"#e5261c");
scatter(innerGreen,R.inIn,R.inOut,"#10603a");
scatter(innerRed,R.inIn,R.inOut,"#e5261c");
// circos callouts
const callouts=[{t:[["A549-R11 ",false],["vs.",true],[" A549",false]],x:758.5,y:1334,len:179,p:[[761.7,1359.6],[708,1359.6],[590,1450]]},
 {t:[["H1299 ",false],["vs.",true],[" A549",false]],x:775,y:1421,len:146,p:[[786.6,1437.7],[725.9,1437.7],[577.6,1532.6]]}];
callouts.forEach(k=>{
  txt(svg,k.x,k.y,k.t,{size:18,len:k.len});
  svg.append("path").attr("d",d3.line()(k.p)).attr("fill","none").attr("stroke","#e0451f").attr("stroke-width",1.5);
});
</script>
</body></html>
